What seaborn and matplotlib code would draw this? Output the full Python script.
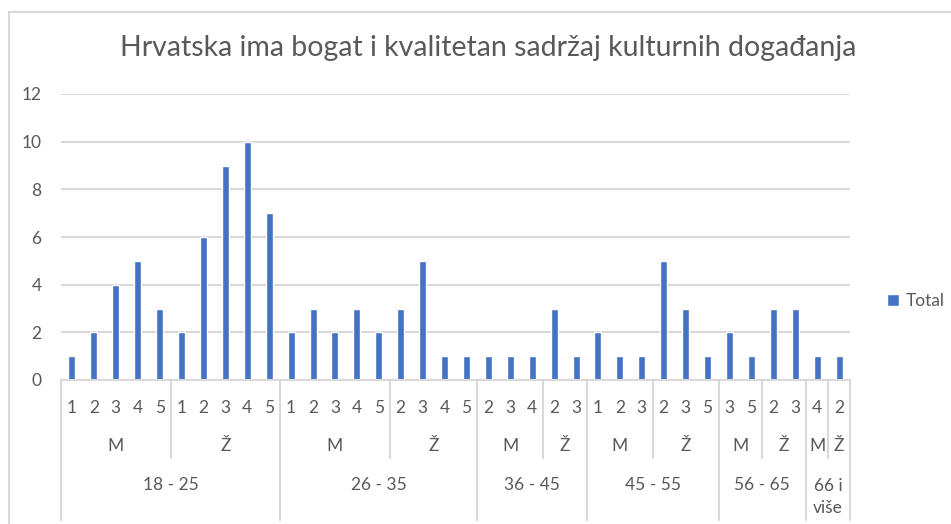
import itertools
import matplotlib
matplotlib.use("Agg")
import matplotlib.pyplot as plt
import matplotlib.transforms as mtransforms
from matplotlib.patches import Rectangle
import pandas as pd
import seaborn as sns

# Data
age = ["18 - 25"] * 10 + ["26 - 35"] * 9 + ["36 - 45"] * 5 + ["45 - 55"] * 6 + ["56 - 65"] * 4 + ["66 i\nviše"] * 2
spol = (["M"] * 5 + ["Ž"] * 5 + ["M"] * 5 + ["Ž"] * 4 + ["M"] * 3 + ["Ž"] * 2
        + ["M"] * 3 + ["Ž"] * 3 + ["M"] * 2 + ["Ž"] * 2 + ["M"] + ["Ž"])
ocjena = ["1", "2", "3", "4", "5", "1", "2", "3", "4", "5",
          "1", "2", "3", "4", "5", "2", "3", "4", "5",
          "2", "3", "4", "2", "3",
          "1", "2", "3", "2", "3", "5",
          "3", "5", "2", "3",
          "4", "2"]
total = [1, 2, 4, 5, 3, 2, 6, 9, 10, 7,
         2, 3, 2, 3, 2, 3, 5, 1, 1,
         1, 1, 1, 3, 1,
         2, 1, 1, 5, 3, 1,
         2, 1, 3, 3,
         1, 1]

title = "Hrvatska ima bogat i kvalitetan sadržaj kulturnih događanja"

df = pd.DataFrame({"age": age, "spol": spol, "ocjena": ocjena, "Total": total})
df["key"] = [f"{i}" for i in range(len(df))]

W, H = 951, 524
text_col = "#595959"
line_col = "#D9D9D9"

sns.set_style("white")
plt.rcParams["font.family"] = ["Lato", "DejaVu Sans"]

fig = plt.figure(figsize=(W / 100, H / 100), dpi=100)
ax = fig.add_axes([61 / W, (H - 380) / H, (850 - 61) / W, (380 - 94) / H])

sns.barplot(data=df, x="key", y="Total", order=list(df["key"]), color="#4472C4",
            saturation=1, width=0.32, ax=ax, label="Total")
if ax.get_legend() is not None:
    ax.get_legend().remove()

ax.set_ylim(0, 12)
ax.set_yticks(range(0, 13, 2))
ax.yaxis.grid(True, color=line_col, linewidth=1.5)
ax.set_axisbelow(True)
ax.tick_params(axis="y", length=0, labelsize=12.5, labelcolor=text_col, pad=14)
ax.set_xticks([])
ax.set_xlabel("")
ax.set_ylabel("")
for s in ["top", "right", "left"]:
    ax.spines[s].set_visible(False)
ax.spines["bottom"].set_color(line_col)
ax.spines["bottom"].set_linewidth(1.5)

# Multi-level category axis
tr = mtransforms.blended_transform_factory(ax.transData, fig.transFigure)
def fy(py):
    return 1 - py / H

for i, o in enumerate(ocjena):
    ax.text(i, fy(408), o, transform=tr, ha="center", va="center", fontsize=12.5, color=text_col)

for a, grp in itertools.groupby(range(len(df)), key=lambda i: age[i]):
    idx = list(grp)
    start, end = idx[0], idx[-1]
    ax.plot([start - 0.5, start - 0.5], [fy(380), fy(520)], transform=tr, color=line_col, lw=1.5,
            clip_on=False, scalex=False, scaley=False)
    ax.text((start + end) / 2, fy(485) if "\n" not in a else fy(497), a, transform=tr, ha="center", va="center",
            fontsize=12.5, color=text_col, linespacing=1.4)
    for s, sub in itertools.groupby(idx, key=lambda i: spol[i]):
        sidx = list(sub)
        if sidx[0] != start:
            ax.plot([sidx[0] - 0.5] * 2, [fy(380), fy(458)], transform=tr, color=line_col, lw=1.5,
                    clip_on=False, scalex=False, scaley=False)
        ax.text((sidx[0] + sidx[-1]) / 2, fy(446), s, transform=tr, ha="center", va="center",
                fontsize=12.5, color=text_col)
ax.plot([len(df) - 0.5] * 2, [fy(380), fy(520)], transform=tr, color=line_col, lw=1.5,
        clip_on=False, scalex=False, scaley=False)
ax.set_xlim(-0.5, len(df) - 0.5)

# Title, legend, chart border
fig.text(488 / W, fy(48), title, ha="center", va="center", fontsize=20.5, color=text_col)
fig.legend(*ax.get_legend_handles_labels(), loc="center left", bbox_to_anchor=(871 / W, fy(301)),
           frameon=False, handlelength=0.7, handleheight=0.7, handletextpad=0.4,
           prop={"size": 12.5}, labelcolor=text_col)
fig.patches.append(Rectangle((9 / W, -0.1), 1.2, 1.1 - 12 / H, transform=fig.transFigure,
                             fill=False, edgecolor=line_col, linewidth=1.5))

fig.savefig("out.png", dpi=100)
